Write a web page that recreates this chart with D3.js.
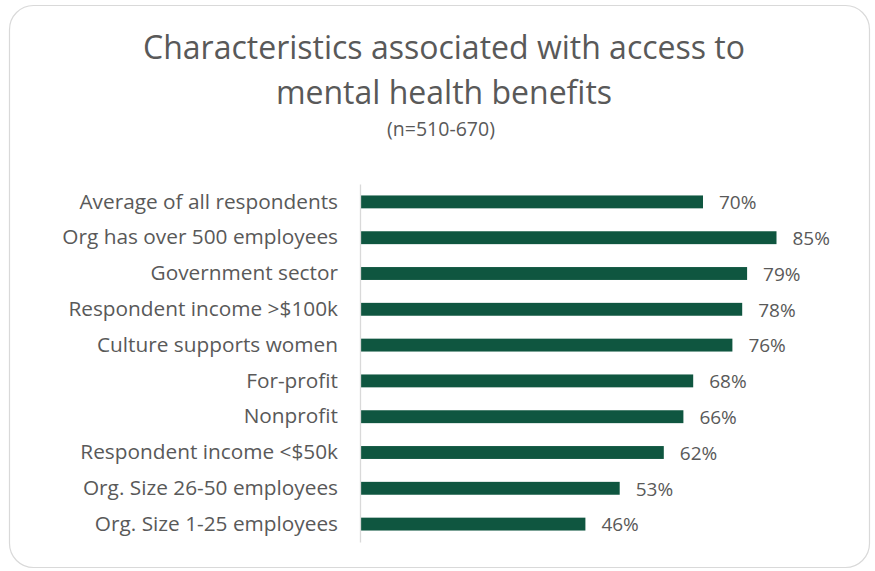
<!DOCTYPE html>
<html><head><meta charset="utf-8">
<script src="https://cdn.jsdelivr.net/npm/d3@7"></script>
<style>body{margin:0;background:#fff}svg{display:block}</style>
</head><body>
<svg id="c" width="875" height="571"></svg>
<script>
const categories = ["Average of all respondents","Org has over 500 employees","Government sector","Respondent income >$100k","Culture supports women ","For-profit","Nonprofit","Respondent income <$50k","Org. Size 26-50 employees","Org. Size 1-25 employees"];
const values = [70,85,79,78,76,68,66,62,53,46];
const titleLines = ["Characteristics associated with access to","mental health benefits"];
const subtitle = "(n=510-670)";

const svg = d3.select("#c");
const font = "'Open Sans', sans-serif";
svg.append("rect").attr("x",9.5).attr("y",5.5).attr("width",860).attr("height",562).attr("rx",24)
  .attr("fill","#fff").attr("stroke","#d9d9d9").attr("stroke-width",1.2);

const x = d3.scaleLinear().domain([0,100]).range([360,850]);
const y = d3.scaleBand().domain(categories).range([184,542]).paddingInner(0.64).paddingOuter(0.32);

svg.selectAll("text.t").data(titleLines).join("text").attr("class","t")
  .attr("x",444).attr("y",(d,i)=>59+i*45).attr("text-anchor","middle")
  .attr("font-family",font).attr("font-size",32).attr("fill","#595959").text(d=>d);
svg.append("text").attr("x",441).attr("y",136).attr("text-anchor","middle")
  .attr("font-family",font).attr("font-size",19.5).attr("fill","#595959").text(subtitle);

svg.selectAll("rect.bar").data(values).join("rect").attr("class","bar")
  .attr("x",x(0)).attr("y",(d,i)=>y(categories[i])).attr("width",d=>x(d)-x(0)).attr("height",y.bandwidth())
  .attr("fill","#0f5640");

const ax = svg.append("g").attr("transform",`translate(${x(0)},0)`).call(d3.axisLeft(y).tickSize(0).tickPadding(22));
ax.select(".domain").attr("stroke","#d9d9d9").attr("stroke-width",1.3);
ax.selectAll("text").attr("font-family",font).attr("font-size",20.8).attr("fill","#595959");

svg.selectAll("text.v").data(values).join("text").attr("class","v")
  .attr("x",d=>x(d)+16).attr("y",(d,i)=>y(categories[i])+y.bandwidth()/2).attr("dy","0.38em")
  .attr("font-family",font).attr("font-size",19).attr("fill","#595959").text(d=>d+"%");
</script>
</body></html>
